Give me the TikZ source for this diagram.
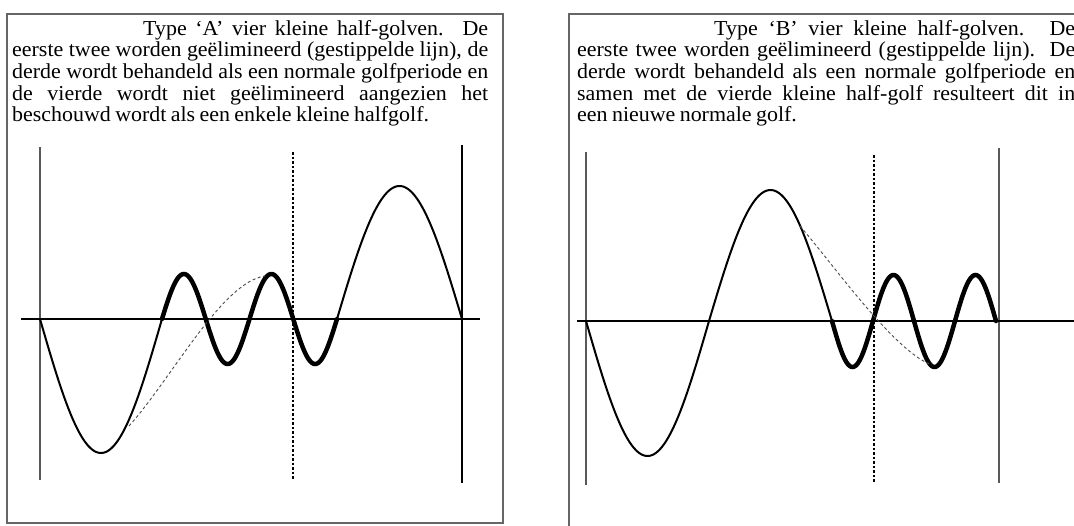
\documentclass[tikz,border=0pt]{standalone}
\usepackage{fontspec}
\setmainfont[FakeStretch=1.03, WordSpace={0.8,4,2.5}]{Liberation Serif}
\usepackage{tikz}
\usepackage{xcolor}
\newcommand{\notefont}{\fontsize{21.3pt}{21.6pt}\selectfont}
\newcommand{\jline}[2]{\makebox[#1][s]{#2}}

\begin{document}
\begin{tikzpicture}[x=1pt, y=-1pt,
    frame/.style={draw=gray!80!black, line width=1.3pt},
    txt/.style={anchor=north west, inner sep=0pt, align=left, font=\notefont},
    axisline/.style={line width=2pt, line cap=rect},
    guide/.style={gray!70!black, line width=1.2pt},
    cutline/.style={black, line width=1.2pt, dash pattern=on 2.5pt off 2pt},
    wave/.style={line width=2pt, samples=120},
    smallwave/.style={line width=4.5pt, samples=160, line cap=round},
    elim/.style={gray!60!black, line width=0.9pt, dash pattern=on 3pt off 2.5pt}]
  \useasboundingbox (0,0) rectangle (1074,525);

  % ---- Type A ----
  \draw[frame] (7,14) rectangle (503,523);
  \node[txt] (textA) at (12,20) {\hspace*{131pt}\jline{345pt}{Type ‘A’ vier kleine half-golven. De}\\
    \jline{476pt}{eerste twee worden geëlimineerd (gestippelde lijn), de}\\
    \jline{476pt}{derde wordt behandeld als een normale golfperiode en}\\
    \jline{476pt}{de vierde wordt niet geëlimineerd aangezien het}\\
    beschouwd wordt als een enkele kleine halfgolf.};

  \draw[guide] (40,147) -- (40,480);
  \draw[cutline] (293,152) -- (293,480);
  \draw[black, line width=2pt] (462,145) -- (462,483);
  \draw[axisline] (22,319) -- (479,319);

  % big half-waves
  \draw[wave, domain=40:162] plot (\x, {319+134*sin((\x-40)/122*180)});
  \draw[wave, domain=337:462] plot (\x, {319-133*sin((\x-337)/125*180)});
  % four small half-waves
  \draw[smallwave, domain=162:337] plot (\x, {319-45*sin((\x-162)/43.75*180)});
  % eliminated path
  \draw[elim] (129,426) .. controls (172,378) and (222,282) .. (265,276);

  % ---- Type B ----
  \draw[frame] (569,14) rectangle (1090,540);
  \node[txt] (textB) at (577,20) {\hspace*{137pt}\jline{361pt}{Type ‘B’ vier kleine half-golven. De}\\
    \jline{498pt}{eerste twee worden geëlimineerd (gestippelde lijn). De}\\
    \jline{498pt}{derde wordt behandeld als een normale golfperiode en}\\
    \jline{498pt}{samen met de vierde kleine half-golf resulteert dit in}\\
    een nieuwe normale golf.};

  \draw[guide] (586,152) -- (586,485);
  \draw[cutline] (874,155) -- (874,483);
  \draw[guide] (999,148) -- (999,483);
  \draw[axisline] (578,321) -- (1080,321);

  % big half-waves
  \draw[wave, domain=586:709] plot (\x, {321+135*sin((\x-586)/123*180)});
  \draw[wave, domain=709:832] plot (\x, {321-131*sin((\x-709)/123*180)});
  % four small half-waves
  \draw[smallwave, domain=832:996] plot (\x, {321+46*sin((\x-832)/41*180)});
  % eliminated path
  \draw[elim] (800,226) .. controls (836,268) and (895,352) .. (932,365);
\end{tikzpicture}
\end{document}
